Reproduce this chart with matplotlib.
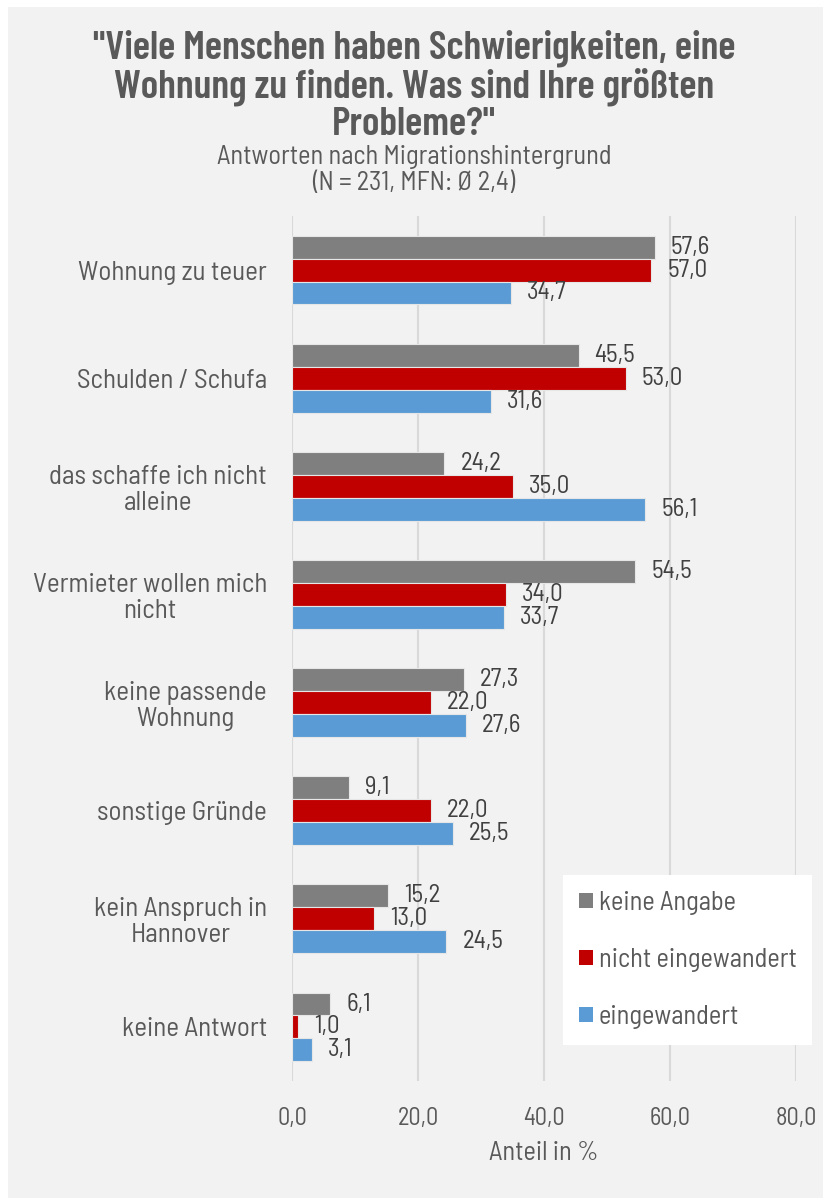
import matplotlib
matplotlib.use("Agg")
import matplotlib.pyplot as plt
from matplotlib import font_manager
from matplotlib.patches import Rectangle, Patch
import numpy as np

categories = [
    "Wohnung zu teuer",
    "Schulden / Schufa",
    "das schaffe ich nicht\nalleine",
    "Vermieter wollen mich\nnicht",
    "keine passende\nWohnung",
    "sonstige Gründe",
    "kein Anspruch in\nHannover",
    "keine Antwort",
]
keine_angabe = [57.6, 45.5, 24.2, 54.5, 27.3, 9.1, 15.2, 6.1]
nicht_eingewandert = [57.0, 53.0, 35.0, 34.0, 22.0, 22.0, 13.0, 1.0]
eingewandert = [34.7, 31.6, 56.1, 33.7, 27.6, 25.5, 24.5, 3.1]
series_names = ["keine Angabe", "nicht eingewandert", "eingewandert"]
series_colors = ["#7f7f7f", "#c00000", "#5b9bd5"]
x_ticks = [0, 20, 40, 60, 80]

names = {f.name for f in font_manager.fontManager.ttflist}


def pick(cands):
    for c in cands:
        if c in names:
            return c
    return "DejaVu Sans"


body_font = pick(["Barlow Semi Condensed", "Roboto Condensed", "Liberation Sans Narrow"])
title_font = pick(["Barlow Condensed", "Roboto Condensed", "Liberation Sans Narrow"])
plt.rcParams["font.family"] = [body_font, "DejaVu Sans"]

label_col = "#595959"
value_col = "#404040"
bg = "#f2f2f2"

fig = plt.figure(figsize=(8.28, 11.98), dpi=100)
fig.patch.set_facecolor("white")
fig.patches.append(Rectangle((8 / 828, 0), 815 / 828, 1 - 7 / 1198,
                             transform=fig.transFigure, facecolor=bg,
                             edgecolor="none", zorder=-5))

ax = fig.add_axes([292 / 828, 1 - 1081 / 1198, 504 / 828, 865 / 1198])
ax.patch.set_alpha(0)

y = np.arange(len(categories))
h = 0.212
all_series = [keine_angabe, nicht_eingewandert, eingewandert]
for k, (vals, col, name) in enumerate(zip(all_series, series_colors, series_names)):
    pos = y + (k - 1) * h
    bars = ax.barh(pos, vals, height=h, color=col, edgecolor="#e6e6e6",
                   linewidth=0.8, label=name, zorder=3)
    for b, v in zip(bars, vals):
        ax.annotate(f"{v:.1f}".replace(".", ","),
                    (v, b.get_y() + b.get_height() / 2),
                    xytext=(11.5, 0), textcoords="offset points",
                    ha="left", va="center", fontsize=18, color=value_col)

ax.set_ylim(len(categories) - 0.5, -0.5)
ax.set_xlim(0, 80)
ax.set_xticks(x_ticks)
ax.set_xticklabels([f"{t:.1f}".replace(".", ",") for t in x_ticks],
                   fontsize=17.5, color=label_col)
ax.set_yticks(y)
ax.set_yticklabels(categories, fontsize=19.5, color=label_col,
                   multialignment="center", linespacing=1.1)
ax.tick_params(axis="both", length=0)
ax.tick_params(axis="x", pad=19)
ax.tick_params(axis="y", pad=18)
for s in ax.spines.values():
    s.set_visible(False)
ax.grid(axis="x", color="#d9d9d9", linewidth=1.5, zorder=0)
ax.set_axisbelow(True)
ax.set_xlabel("Anteil in %", fontsize=19, color=label_col, labelpad=8)

fig.text(0.5, 1 - 86 / 1198,
         "\"Viele Menschen haben Schwierigkeiten, eine\nWohnung zu finden. Was sind Ihre größten\nProbleme?\"",
         ha="center", va="center", fontsize=29, fontweight="semibold",
         family=[title_font, "DejaVu Sans"],
         color=label_col, linespacing=1.03)
fig.text(0.5, 1 - 170 / 1198,
         "Antworten nach Migrationshintergrund\n(N = 231, MFN: Ø 2,4)",
         ha="center", va="center", fontsize=19, color=label_col,
         linespacing=1.1)

handles = [Patch(facecolor=c, edgecolor="none") for c in series_colors]
leg = fig.legend(handles, series_names, loc="upper left",
                 bbox_to_anchor=(563 / 828, 1 - 875 / 1198),
                 frameon=True, fancybox=False, fontsize=19,
                 handlelength=0.53, handleheight=0.53, handletextpad=0.22,
                 labelspacing=1.25, borderpad=0.6, borderaxespad=0)
leg.get_frame().set_facecolor("white")
leg.get_frame().set_edgecolor("none")
leg.get_frame().set_alpha(1)
for t in leg.get_texts():
    t.set_color(label_col)

fig.savefig("out.png", dpi=100, facecolor=fig.get_facecolor())
